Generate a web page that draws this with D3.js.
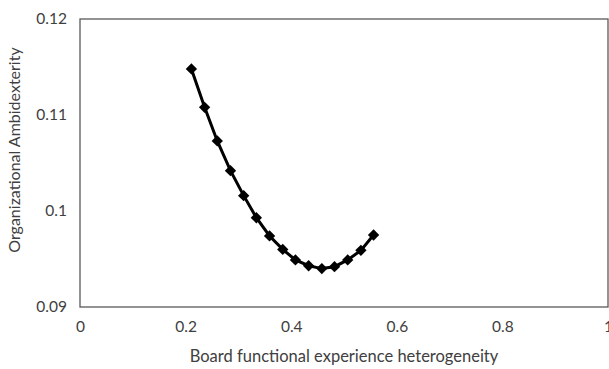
<!DOCTYPE html>
<html>
<head>
<meta charset="utf-8">
<script src="https://cdn.jsdelivr.net/npm/d3@7"></script>
<style>
  body { margin: 0; background: #fff; }
  text { font-family: Lato, "Open Sans", sans-serif; fill: #404040; }
</style>
</head>
<body>
<div id="chart"></div>
<script>
// values
const heterogeneity = [0.211, 0.236, 0.260, 0.285, 0.310, 0.334, 0.359, 0.384,
  0.408, 0.433, 0.458, 0.482, 0.507, 0.532, 0.556];
const ambidexterity = [0.1148, 0.1108, 0.1073, 0.1042, 0.1016, 0.0993, 0.0974, 0.0960,
  0.0949, 0.0943, 0.0940, 0.0942, 0.0949, 0.0959, 0.0975];
const xTicks = [0, 0.2, 0.4, 0.6, 0.8, 1];
const yTicks = [0.09, 0.1, 0.11, 0.12];

const data = heterogeneity.map((h, i) => ({ x: h, y: ambidexterity[i] }));

const margin = { top: 19, right: 1, bottom: 62, left: 80 };
const width = 609 - margin.left - margin.right;
const height = 369 - margin.top - margin.bottom;

const x = d3.scaleLinear().domain([0, 1]).range([0, width]);
const y = d3.scaleLinear().domain([0.09, 0.12]).range([height, 0]);

const svg = d3
  .select("#chart")
  .append("svg")
  .attr("width", 609)
  .attr("height", 369)
  .append("g")
  .attr("transform", "translate(" + margin.left + "," + margin.top + ")");

// plot frame
svg.append("rect")
  .attr("x", 0).attr("y", 0)
  .attr("width", width).attr("height", height)
  .attr("fill", "none")
  .attr("stroke", "#595959")
  .attr("stroke-width", 1.3);

const xAxis = svg.append("g")
  .attr("transform", "translate(0," + height + ")")
  .call(d3.axisBottom(x).tickValues(xTicks).tickSize(0).tickPadding(14)
    .tickFormat(d => d3.format("")(d)));
xAxis.select(".domain").remove();
xAxis.selectAll("text").style("font-size", "15.5px").attr("fill", "#404040");

const yAxis = svg.append("g")
  .call(d3.axisLeft(y).tickValues(yTicks).tickSize(0).tickPadding(13)
    .tickFormat(d => d3.format("")(+d.toFixed(2))));
yAxis.select(".domain").remove();
yAxis.selectAll("text").style("font-size", "15.5px").attr("fill", "#404040");

const line = d3.line()
  .x(d => x(d.x))
  .y(d => y(d.y));

svg.append("path")
  .datum(data)
  .attr("fill", "none")
  .attr("stroke", "#000")
  .attr("stroke-width", 3)
  .attr("d", line);

svg.append("g")
  .selectAll("path")
  .data(data)
  .join("path")
  .attr("d", d3.symbol(d3.symbolSquare, 64))
  .attr("transform", d => "translate(" + x(d.x) + "," + y(d.y) + ") rotate(45)")
  .attr("fill", "#000");

svg.append("text")
  .attr("x", width / 2)
  .attr("y", height + 55)
  .attr("text-anchor", "middle")
  .style("font-size", "16.5px")
  .text("Board functional experience heterogeneity");

svg.append("text")
  .attr("transform", "translate(" + (-60) + "," + (150 - margin.top) + ") rotate(-90)")
  .attr("text-anchor", "middle")
  .style("font-size", "16px")
  .text("Organizational Ambidexterity");
</script>
</body>
</html>
